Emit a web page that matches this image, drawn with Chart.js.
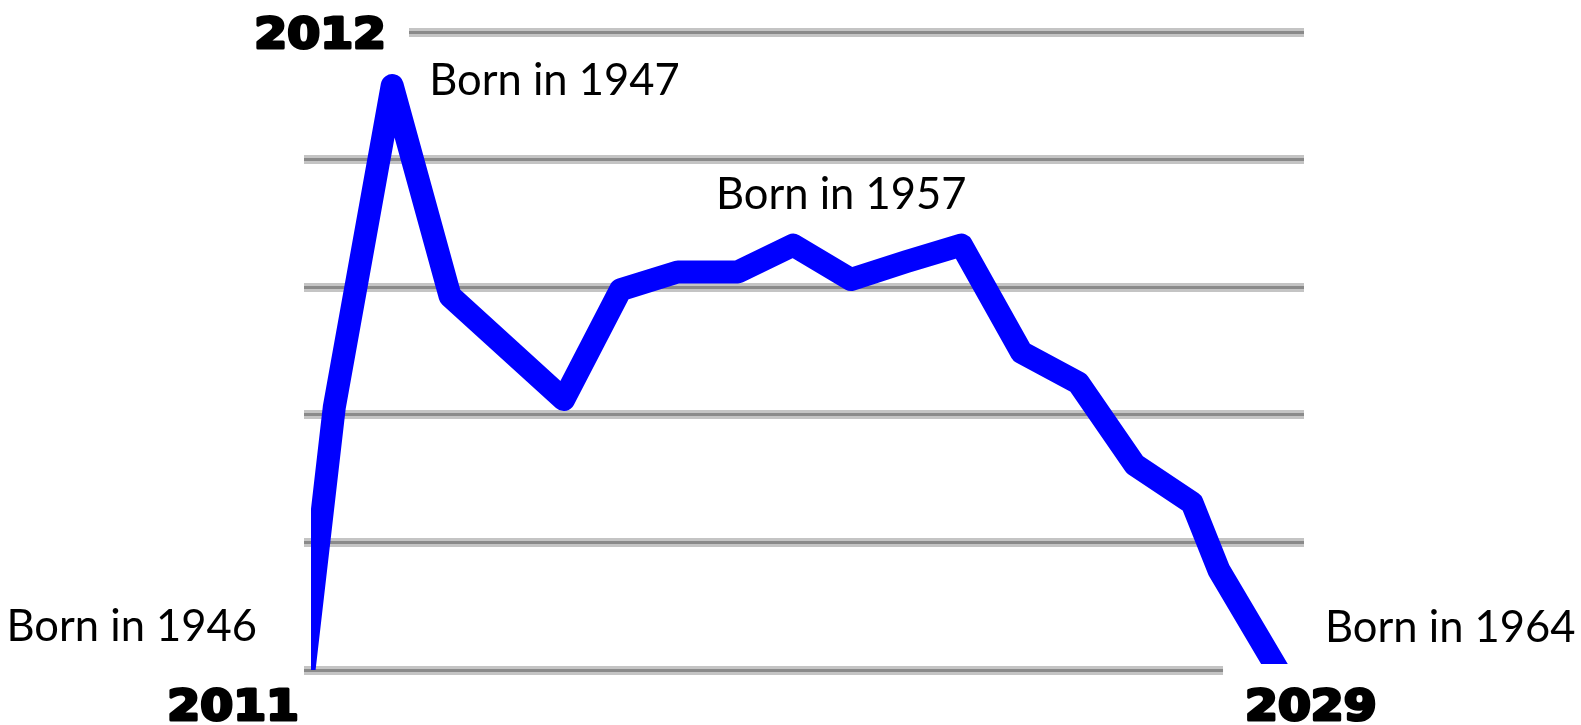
<!DOCTYPE html>
<html>
<head>
<meta charset="utf-8">
<script src="https://cdn.jsdelivr.net/npm/chart.js@4"></script>
<style>
  html, body { margin: 0; padding: 0; background: #fff; }
  #chart { display: block; }
</style>
</head>
<body>
<canvas id="chart" width="1581" height="725"></canvas>
<script>
// blue line: x in years, y in grid steps (0 = bottom line, 5 = top line)
var years = [2011, 2011.56, 2012.63, 2013.7, 2015.8, 2016.85, 2017.91, 2019.02, 2020.04, 2021.11, 2022.13, 2023.15, 2024.26, 2025.31, 2026.35, 2027.41, 2027.91, 2029];
var values = [0, 2.06, 4.58, 2.93, 2.12, 2.98, 3.12, 3.12, 3.33, 3.06, 3.2, 3.33, 2.49, 2.25, 1.61, 1.31, 0.78, 0];

// big year labels and where they hang
var yearLabels = ["2011", "2012", "2029"];
var yearLabelX = [2011, 2011, 2029];
var yearLabelY = [0, 5, 0];

// "Born in" notes and the point each one sits next to
var bornLabels = ["Born in 1946", "Born in 1947", "Born in 1957", "Born in 1964"];
var bornX = [2011, 2012.63, 2020.04, 2029];
var bornY = [0, 4.58, 3.33, 0];

var points = years.map(function (y, i) { return { x: y, y: values[i] }; });

var labelsPlugin = {
    id: 'labels',
    beforeDatasetsDraw: function (chart) {
        var ctx = chart.ctx, xs = chart.scales.x, ys = chart.scales.y;
        ctx.save();
        ctx.fillStyle = '#fff';
        // top grid line stops right after "2012"
        var tx = xs.getPixelForValue(yearLabelX[1]), ty = ys.getPixelForValue(yearLabelY[1]);
        ctx.fillRect(tx - 20, ty - 8, 125, 16);
        ctx.restore();
    },
    afterDatasetsDraw: function (chart) {
        var ctx = chart.ctx, xs = chart.scales.x, ys = chart.scales.y;
        ctx.save();
        // bottom line is cut under "Born in 1964"
        var ex = xs.getPixelForValue(2029), ey = ys.getPixelForValue(0);
        ctx.fillStyle = '#fff';
        ctx.fillRect(ex - 55, ey - 6, 90, 14);

        ctx.fillStyle = '#000';
        ctx.strokeStyle = '#000';
        ctx.lineWidth = 3;
        ctx.lineJoin = 'round';
        ctx.textBaseline = 'alphabetic';
        ctx.font = 'bold 43px "DejaVu Sans"';
        var yOff = [[-5, 50, 'right'], [82, 16, 'right'], [-33, 50, 'left']];
        yearLabels.forEach(function (t, i) {
            ctx.save();
            ctx.translate(xs.getPixelForValue(yearLabelX[i]) + yOff[i][0], ys.getPixelForValue(yearLabelY[i]) + yOff[i][1]);
            ctx.scale(1.1, 1);
            ctx.textAlign = yOff[i][2];
            ctx.strokeText(t, 0, 0);
            ctx.fillText(t, 0, 0);
            ctx.restore();
        });

        ctx.font = '43.5px Lato';
        var bOff = [[-47, -29, 'right'], [37, 9, 'left'], [48, -36, 'center'], [47, -28, 'left']];
        bornLabels.forEach(function (t, i) {
            ctx.textAlign = bOff[i][2];
            ctx.fillText(t, xs.getPixelForValue(bornX[i]) + bOff[i][0], ys.getPixelForValue(bornY[i]) + bOff[i][1]);
        });
        ctx.restore();
    }
};

function noWidth(scale) { scale.width = 0; }

new Chart(document.getElementById('chart'), {
    type: 'line',
    data: {
        datasets: [{
            data: points,
            borderColor: '#0000ff',
            borderWidth: 23,
            borderJoinStyle: 'round',
            borderCapStyle: 'butt',
            pointRadius: 0,
            tension: 0,
            fill: false,
            clip: { left: -7, top: 40, right: 40, bottom: 0 }
        }]
    },
    options: {
        responsive: false,
        animation: false,
        layout: { padding: { left: 304, right: 277, top: 32, bottom: 55 } },
        plugins: { legend: { display: false }, tooltip: { enabled: false } },
        scales: {
            x: { type: 'linear', min: 2011, max: 2029.48, display: false },
            y: {
                min: 0, max: 5,
                ticks: { display: false, stepSize: 1 },
                border: { display: false },
                grid: { color: '#c4c4c4', lineWidth: 9, drawTicks: false },
                afterFit: noWidth
            },
            y2: {
                min: 0, max: 5,
                ticks: { display: false, stepSize: 1 },
                border: { display: false },
                grid: { color: '#8a8a8a', lineWidth: 3, drawTicks: false },
                afterFit: noWidth
            }
        }
    },
    plugins: [labelsPlugin]
});
</script>
</body>
</html>
